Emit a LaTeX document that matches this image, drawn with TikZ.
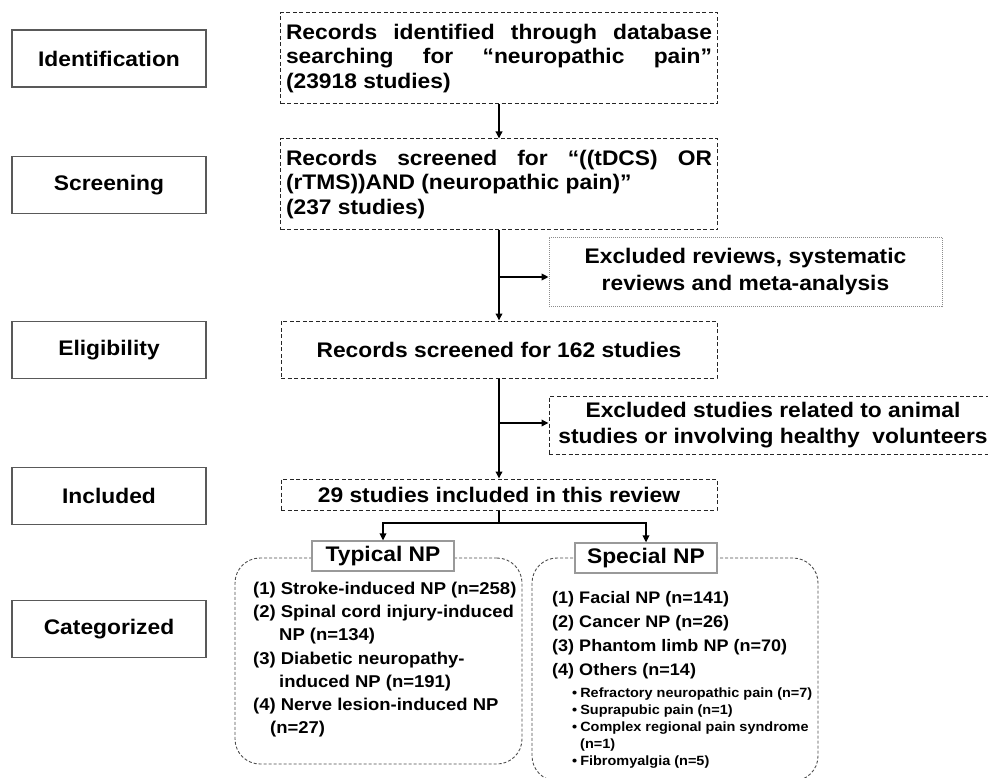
\documentclass[tikz,border=0pt]{standalone}
\usepackage{fontspec}
\setmainfont{Liberation Sans}[FakeStretch=1.08]
\usetikzlibrary{arrows.meta}
\newcommand{\fsz}[2]{\fontsize{#1}{#2}\selectfont\bfseries}
\begin{document}
\begin{tikzpicture}[x=1pt,y=-1pt,
  lab/.style={draw=black!65, line width=1.2pt, minimum width=194pt, minimum height=57pt, inner sep=0pt, font=\fsz{21.1}{24}},
  mainbox/.style={draw=black!85, dash pattern=on 4pt off 2.5pt, line width=1pt, inner sep=0pt, align=left, font=\fsz{21.1}{24.3}},
  exbox/.style={inner sep=0pt, align=center, font=\fsz{21.1}{26.5}},
  dotbox/.style={draw=black!45, dash pattern=on 1pt off 1pt, line width=0.8pt},
  catbox/.style={draw=black!70, dash pattern=on 3pt off 2pt, line width=0.9pt, rounded corners=25pt, inner sep=0pt},
  hdr/.style={draw=black!40, fill=white, line width=1.2pt, minimum width=142pt, minimum height=30pt, inner sep=0pt, font=\fsz{21.1}{24}},
  conn/.style={line width=2pt, -{Triangle[length=7pt,width=6.5pt]}},
  line/.style={line width=2pt},
  itm/.style={anchor=base west, inner sep=0pt, font=\fsz{17.1}{20}},
  itms/.style={anchor=base west, inner sep=0pt, font=\fsz{16.7}{20}},
  sub/.style={anchor=base west, inner sep=0pt, font=\fsz{13.4}{16}}
]
\useasboundingbox (0,0) rectangle (988,778);
\clip (0,0) rectangle (988,778);

% stage labels
\node[lab] (Lid) at (109,58.5) {Identification};
\node[lab] (Lsc) at (109,185) {Screening};
\node[lab] (Lel) at (109,350) {Eligibility};
\node[lab] (Lin) at (109,496) {Included};
\node[lab] (Lca) at (109,629) {Categorized};

% main flow boxes
\node[mainbox, minimum width=437pt, minimum height=91pt] (id) at (499,58.5)
  {\makebox[426pt][s]{Records identified through database}\\
   \makebox[426pt][s]{searching for “neuropathic pain”}\\
   (23918 studies)};
\node[mainbox, minimum width=437pt, minimum height=91pt] (scr) at (499,184.5)
  {\makebox[426pt][s]{Records screened for “((tDCS) OR}\\
   (rTMS))AND (neuropathic pain)”\\
   (237 studies)};
\node[mainbox, align=center, minimum width=436pt, minimum height=57pt] (elig) at (499,349.5)
  {Records screened for 162 studies};
\node[mainbox, align=center, minimum width=436pt, minimum height=31pt] (incl) at (499,494.5)
  {29 studies included in this review};

% exclusion boxes
\node[exbox, dotbox, minimum width=393pt, minimum height=69pt] (ex1) at (745.5,271.5)
  {Excluded reviews, systematic\\reviews and meta-analysis};
\node[exbox, draw=black!85, dash pattern=on 4pt off 2.5pt, line width=1pt, minimum width=448pt, minimum height=58pt] (ex2) at (773,425)
  {Excluded studies related to animal\\studies or involving healthy\ \ volunteers};

% connectors
\coordinate (j1) at (499,277);
\coordinate (j2) at (499,423);
\coordinate (sp) at (499,523);
\draw[conn] (id) -- (scr);
\draw[conn] (scr) -- (elig);
\draw[conn] (j1) -- (j1 -| ex1.west);
\draw[conn] (elig) -- (incl);
\draw[conn] (j2) -- (j2 -| ex2.west);

% category boxes
\node[catbox, minimum width=287pt, minimum height=206pt] (typbox) at (378.5,661) {};
\node[catbox, minimum width=286pt, minimum height=223pt] (spbox) at (675,669.5) {};
\node[hdr] (typh) at (383,556) {Typical NP};
\node[hdr] (spch) at (646,558) {Special NP};

\draw[line] (incl.south) -- (sp);
\draw[conn] (sp) -| (typh.north);
\draw[conn] (sp) -| (spch.north);

% typical list
\node[itm] (t1) at (253,594.5) {(1) Stroke-induced NP (n=258)};
\node[itm] (t2) at (253,617.7) {(2) Spinal cord injury-induced};
\node[itm] (t3) at (279,640.9) {NP (n=134)};
\node[itm] (t4) at (253,664.1) {(3) Diabetic neuropathy-};
\node[itm] (t5) at (279,687.3) {induced NP (n=191)};
\node[itm] (t6) at (253,710.5) {(4) Nerve lesion-induced NP};
\node[itm] (t7) at (270,733.7) {(n=27)};

% special list
\node[itms] (s1) at (552,603) {(1) Facial NP (n=141)};
\node[itms] (s2) at (552,627) {(2) Cancer NP (n=26)};
\node[itms] (s3) at (552,651) {(3) Phantom limb NP (n=70)};
\node[itms] (s4) at (552,675) {(4) Others (n=14)};
\node[sub] (b1) at (572,697) {\textbullet\hspace{3pt}Refractory neuropathic pain (n=7)};
\node[sub] (b2) at (572,714) {\textbullet\hspace{3pt}Suprapubic pain (n=1)};
\node[sub] (b3) at (572,731) {\textbullet\hspace{3pt}Complex regional pain syndrome};
\node[sub] (b4) at (580,748) {(n=1)};
\node[sub] (b5) at (572,765) {\textbullet\hspace{3pt}Fibromyalgia (n=5)};
\end{tikzpicture}
\end{document}
